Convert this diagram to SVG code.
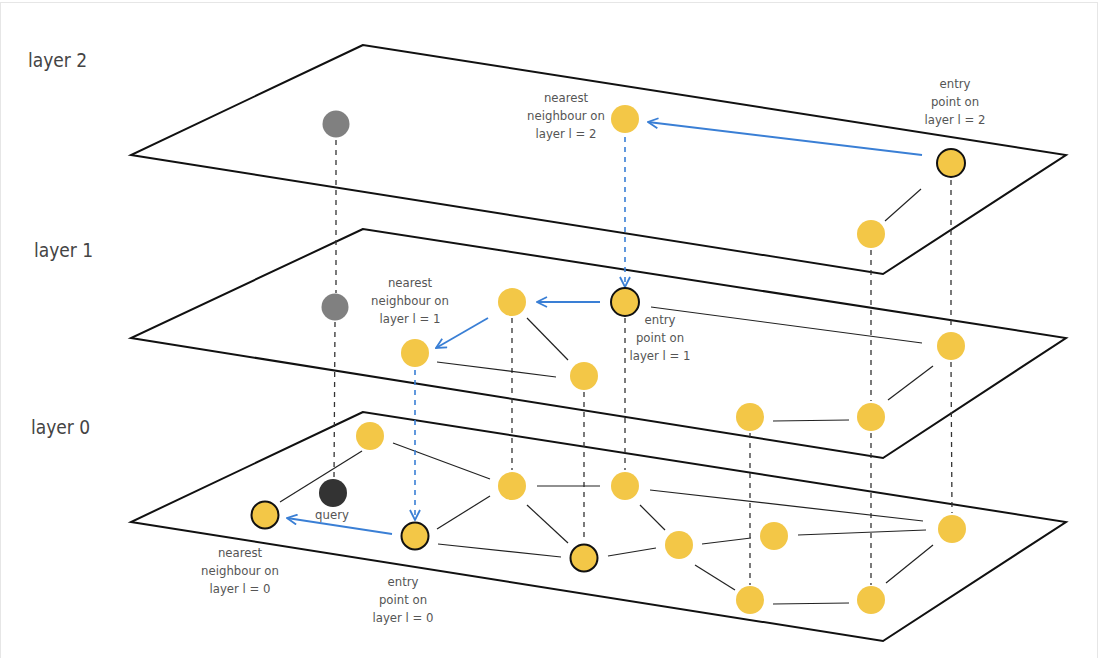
<svg xmlns="http://www.w3.org/2000/svg" width="1099" height="658" viewBox="0 0 1099 658">
<style>
.plane{fill:none;stroke:#111;stroke-width:2;stroke-linejoin:miter}
.n{fill:#F3C747}
.o{fill:#F3C747;stroke:#111;stroke-width:2}
.g{fill:#808080}
.q{fill:#333}
.e{stroke:#222;stroke-width:1.2;fill:none}
.d{stroke:#333;stroke-width:1.3;stroke-dasharray:5,5;fill:none}
.bd{stroke:#3a7fd5;stroke-width:1.6;stroke-dasharray:5,5;fill:none}
.b{stroke:#3a7fd5;stroke-width:1.8;fill:none}
.lt{font-family:"DejaVu Sans Condensed","Liberation Sans Narrow","Liberation Sans",sans-serif;font-size:19px;fill:#444}
.sm{font-family:"Liberation Sans Narrow","DejaVu Sans Condensed","Liberation Sans",sans-serif;font-size:13px;fill:#555;text-anchor:middle}
</style>
<defs>
<marker id="ah" viewBox="0 0 12 12" refX="11" refY="6" markerWidth="12" markerHeight="12" markerUnits="userSpaceOnUse" orient="auto">
<path d="M1,1 L11,6 L1,11" fill="none" stroke="#3a7fd5" stroke-width="1.8"/>
</marker>
</defs>
<rect x="0.5" y="2.5" width="1097" height="660" fill="#fff" stroke="#e6e6e6"/>
<g id="planes">
<polygon id="plane2" class="plane" points="363,45 131,155 883,274 1066,155"/>
<polygon id="plane1" class="plane" points="363,229 131,338 883,458 1066,338"/>
<polygon id="plane0" class="plane" points="363,412 131,522 883,641 1066,522"/>
</g>
<g id="layer-labels">
<text class="lt" x="28" y="67">layer 2</text>
<text class="lt" x="34" y="257">layer 1</text>
<text class="lt" x="31" y="434">layer 0</text>
</g>
<g id="connectors">
<line class="d" x1="336" y1="140" x2="336" y2="293"/>
<line class="d" x1="335" y1="322" x2="334" y2="478"/>
<line class="d" x1="512" y1="318" x2="512" y2="470"/>
<line class="d" x1="584" y1="392" x2="584" y2="542"/>
<line class="d" x1="625" y1="318" x2="625" y2="470"/>
<line class="d" x1="871" y1="250" x2="871" y2="401"/>
<line class="d" x1="871" y1="433" x2="871" y2="585"/>
<line class="d" x1="951" y1="180" x2="951" y2="330"/>
<line class="d" x1="951" y1="362" x2="952" y2="513"/>
<line class="d" x1="750" y1="433" x2="750" y2="585"/>
<line class="e" x1="885" y1="221" x2="921" y2="189"/>
<line class="e" x1="527" y1="318" x2="568" y2="360"/>
<line class="e" x1="437" y1="362" x2="556" y2="377"/>
<line class="e" x1="651" y1="307" x2="922" y2="343"/>
<line class="e" x1="933" y1="366" x2="888" y2="400"/>
<line class="e" x1="773" y1="421" x2="849" y2="420"/>
<line class="e" x1="362" y1="451" x2="280" y2="502"/>
<line class="e" x1="393" y1="443" x2="490" y2="479"/>
<line class="e" x1="437" y1="529" x2="490" y2="496"/>
<line class="e" x1="438" y1="544" x2="561" y2="557"/>
<line class="e" x1="537" y1="486" x2="600" y2="486"/>
<line class="e" x1="527" y1="505" x2="568" y2="543"/>
<line class="e" x1="640" y1="505" x2="665" y2="530"/>
<line class="e" x1="650" y1="490" x2="923" y2="521"/>
<line class="e" x1="608" y1="556" x2="656" y2="548"/>
<line class="e" x1="702" y1="544" x2="751" y2="538"/>
<line class="e" x1="798" y1="535" x2="926" y2="530"/>
<line class="e" x1="695" y1="565" x2="735" y2="590"/>
<line class="e" x1="773" y1="604" x2="849" y2="603"/>
<line class="e" x1="886" y1="583" x2="933" y2="545"/>
<line class="b" x1="922" y1="155" x2="648" y2="122" marker-end="url(#ah)"/>
<line class="bd" x1="625" y1="137" x2="625" y2="287" marker-end="url(#ah)"/>
<line class="b" x1="600" y1="302" x2="537" y2="302" marker-end="url(#ah)"/>
<line class="b" x1="488" y1="318" x2="436" y2="348" marker-end="url(#ah)"/>
<line class="bd" x1="415" y1="370" x2="415" y2="520" marker-end="url(#ah)"/>
<line class="b" x1="392" y1="534" x2="287" y2="518" marker-end="url(#ah)"/>
</g>
<g id="layer2-nodes">
<g id="l2-gray"><circle class="g" cx="336" cy="124" r="13.5"/></g>
<g id="l2-nearest"><circle class="n" cx="625" cy="119" r="14"/>
<text class="sm" x="566" y="102">nearest</text><text class="sm" x="566" y="120">neighbour on</text><text class="sm" x="566" y="138">layer l = 2</text></g>
<g id="l2-entry"><circle class="o" cx="951" cy="163" r="14"/>
<text class="sm" x="955" y="88">entry</text><text class="sm" x="955" y="106">point on</text><text class="sm" x="955" y="124">layer l = 2</text></g>
<g id="l2-a"><circle class="n" cx="871" cy="234" r="14"/></g>
</g>
<g id="layer1-nodes">
<g id="l1-gray"><circle class="g" cx="335" cy="307" r="13.5"/></g>
<g id="l1-a"><circle class="n" cx="512" cy="302" r="14"/></g>
<g id="l1-entry"><circle class="o" cx="625" cy="302" r="14"/>
<text class="sm" x="660" y="324">entry</text><text class="sm" x="660" y="342">point on</text><text class="sm" x="660" y="360">layer l = 1</text></g>
<g id="l1-nearest"><circle class="n" cx="415" cy="353" r="14"/>
<text class="sm" x="410" y="287">nearest</text><text class="sm" x="410" y="305">neighbour on</text><text class="sm" x="410" y="323">layer l = 1</text></g>
<g id="l1-c"><circle class="n" cx="584" cy="376" r="14"/></g>
<g id="l1-d"><circle class="n" cx="951" cy="346" r="14"/></g>
<g id="l1-e"><circle class="n" cx="871" cy="417" r="14"/></g>
<g id="l1-f"><circle class="n" cx="750" cy="417" r="14"/></g>
</g>
<g id="layer0-nodes">
<g id="l0-a"><circle class="n" cx="370" cy="436" r="14"/></g>
<g id="l0-query"><circle class="q" cx="333" cy="493" r="14"/><text class="sm" x="332" y="519">query</text></g>
<g id="l0-nearest"><circle class="o" cx="265" cy="515" r="13.5"/>
<text class="sm" x="240" y="557">nearest</text><text class="sm" x="240" y="575">neighbour on</text><text class="sm" x="240" y="593">layer l = 0</text></g>
<g id="l0-entry"><circle class="o" cx="415" cy="536" r="13.5"/>
<text class="sm" x="403" y="586">entry</text><text class="sm" x="403" y="604">point on</text><text class="sm" x="403" y="622">layer l = 0</text></g>
<g id="l0-b"><circle class="n" cx="512" cy="486" r="14"/></g>
<g id="l0-c"><circle class="n" cx="625" cy="486" r="14"/></g>
<g id="l0-d"><circle class="o" cx="584" cy="558" r="13.5"/></g>
<g id="l0-e"><circle class="n" cx="679" cy="545" r="14"/></g>
<g id="l0-f"><circle class="n" cx="774" cy="536" r="14"/></g>
<g id="l0-g"><circle class="n" cx="952" cy="529" r="14"/></g>
<g id="l0-h"><circle class="n" cx="750" cy="600" r="14"/></g>
<g id="l0-i"><circle class="n" cx="871" cy="600" r="14"/></g>
</g>
</svg>
